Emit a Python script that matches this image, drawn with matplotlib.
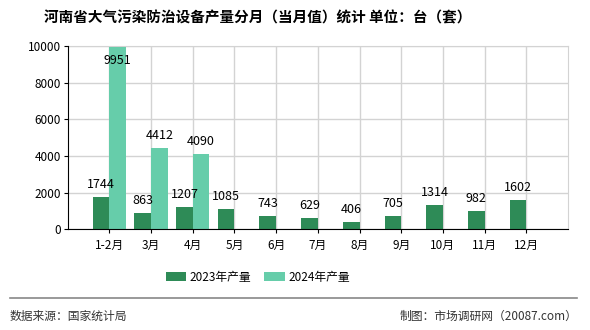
import matplotlib
matplotlib.use("Agg")
import matplotlib.pyplot as plt
import numpy as np

plt.rcParams['font.family'] = ['Noto Sans CJK SC', 'DejaVu Sans']

categories = ["1-2月", "3月", "4月", "5月", "6月", "7月", "8月", "9月", "10月", "11月", "12月"]
prod_2023 = [1744, 863, 1207, 1085, 743, 629, 406, 705, 1314, 982, 1602]
prod_2024 = [9951, 4412, 4090]
yticks = [0, 2000, 4000, 6000, 8000, 10000]

title = "河南省大气污染防治设备产量分月（当月值）统计 单位：台（套）"
labels = ["2023年产量", "2024年产量"]
c23 = "#2E8B57"
c24 = "#66CDAA"

fig = plt.figure(figsize=(5.9, 3.3), dpi=100)
ax = fig.add_axes([67.7/590, 1-229.3/330, (568-67.7)/590, (229.3-46)/330])

x = np.arange(len(categories))
w = 0.4
b1 = ax.bar(x - w/2, prod_2023, width=w, color=c23, label=labels[0], zorder=3)
x24 = np.arange(len(prod_2024))
b2 = ax.bar(x24 + w/2, prod_2024, width=w, color=c24, label=labels[1], zorder=3)

ax.set_xlim(-1, len(categories))
ax.set_ylim(0, 10000)
ax.set_yticks(yticks)
ax.set_xticks(x)
ax.set_xticklabels(categories)
ax.tick_params(axis='both', labelsize=8.5, length=3, color='black', pad=2)
ax.tick_params(axis='x', pad=4)
ax.grid(True, color='#d3d3d3', linewidth=1, zorder=0)
for s in ['top', 'right']:
    ax.spines[s].set_color('#d3d3d3')
ax.spines['left'].set_color('black')
ax.spines['bottom'].set_color('black')
ax.spines['left'].set_zorder(4)
ax.spines['bottom'].set_zorder(4)

def label_bars(bars, vals):
    for b, v in zip(bars, vals):
        cx = b.get_x() + b.get_width()/2
        off = -10 if v > 9000 else 9
        ax.annotate(str(v), (cx, v), xytext=(0, off), textcoords='offset points',
                    ha='center', va='center', fontsize=9, zorder=5)

label_bars(b1, prod_2023)
label_bars(b2, prod_2024)

fig.text(258/590, 1-17/330, title, ha='center', va='center', fontsize=10.5, fontweight='bold')

fig.legend(handles=[b1, b2], labels=labels, loc='center', bbox_to_anchor=(258/590, 1-277/330),
           ncol=2, frameon=False, fontsize=8.5, handlelength=1.7, handleheight=0.8,
           columnspacing=1.1, handletextpad=0.3)

fig.add_artist(plt.Line2D([10/590, 577/590], [1-298/330, 1-298/330], color='#888888', linewidth=1.2))
fig.text(10/590, 1-316/330, "数据来源：国家统计局", ha='left', va='center', fontsize=8.5, color='#333333')
fig.text(577/590, 1-316/330, "制图：市场调研网（20087.com）", ha='right', va='center', fontsize=8.5, color='#333333')

fig.savefig("out.png", dpi=100)
